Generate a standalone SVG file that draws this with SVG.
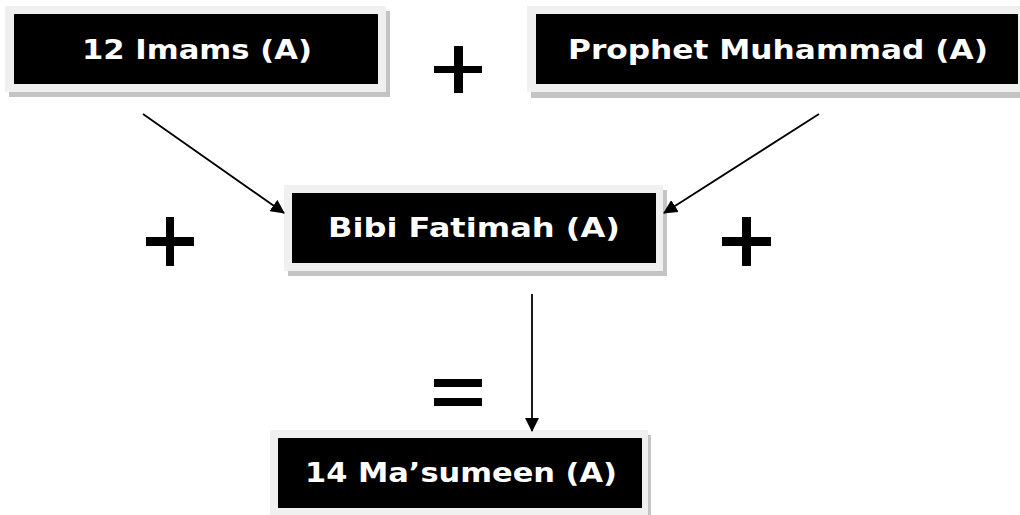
<svg xmlns="http://www.w3.org/2000/svg" width="1020" height="515" viewBox="0 0 1020 515">
  <defs>
    <marker id="arr" markerWidth="14" markerHeight="14" refX="13" refY="7" orient="auto" markerUnits="userSpaceOnUse" viewBox="0 0 14 14">
      <path d="M0,0 L14,7 L0,14 z" fill="#000"/>
    </marker>
    <style>
      .shadow { fill: #c4c4c4; }
      .frame { fill: #f0f0f0; }
      .box { fill: #000; }
      .lbl { fill: #fff; font-family: "Comic Sans MS", "DejaVu Sans", sans-serif; font-size: 26px; font-weight: bold; text-anchor: middle; }
      .conn { stroke: #000; stroke-width: 1.8; fill: none; marker-end: url(#arr); }
      .sym { fill: #000; }
    </style>
  </defs>
  <rect width="1020" height="515" fill="#fff"/>

  <g id="node-imams">
    <rect class="shadow" x="9" y="11" width="381" height="86"/>
    <rect class="frame" x="5" y="6" width="381" height="86"/>
    <rect class="box" x="14" y="14" width="364" height="70"/>
    <text class="lbl" x="197" y="59" textLength="230" lengthAdjust="spacingAndGlyphs">12 Imams (A)</text>
  </g>

  <g id="node-prophet">
    <rect class="shadow" x="531" y="11" width="500" height="87"/>
    <rect class="frame" x="527" y="6" width="500" height="86"/>
    <rect class="box" x="536" y="14" width="482" height="70"/>
    <text class="lbl" x="778" y="59" textLength="420" lengthAdjust="spacingAndGlyphs">Prophet Muhammad (A)</text>
  </g>

  <g id="node-fatimah">
    <rect class="shadow" x="288" y="190" width="379" height="86"/>
    <rect class="frame" x="284" y="185" width="379" height="86"/>
    <rect class="box" x="292" y="193" width="364" height="70"/>
    <text class="lbl" x="474" y="237" textLength="292" lengthAdjust="spacingAndGlyphs">Bibi Fatimah (A)</text>
  </g>

  <g id="node-masumeen">
    <rect class="shadow" x="274" y="435" width="377" height="86"/>
    <rect class="frame" x="270" y="430" width="378" height="86"/>
    <rect class="box" x="278" y="438" width="364" height="70"/>
    <text class="lbl" x="461" y="482" textLength="312" lengthAdjust="spacingAndGlyphs">14 Ma’sumeen (A)</text>
  </g>

  <g id="connectors">
    <line class="conn" x1="143" y1="114" x2="284" y2="213"/>
    <line class="conn" x1="819" y1="114" x2="664" y2="213"/>
    <line class="conn" x1="532" y1="294" x2="532" y2="431"/>
  </g>

  <g id="operators">
    <rect class="sym" x="454" y="46" width="9" height="47"/>
    <rect class="sym" x="434" y="66" width="48" height="7"/>
    <rect class="sym" x="166" y="217" width="8" height="49"/>
    <rect class="sym" x="146" y="237" width="48" height="9"/>
    <rect class="sym" x="742" y="217" width="9" height="49"/>
    <rect class="sym" x="722" y="237" width="49" height="9"/>
    <rect class="sym" x="434" y="379" width="48" height="8"/>
    <rect class="sym" x="434" y="398" width="48" height="8"/>
  </g>
</svg>
